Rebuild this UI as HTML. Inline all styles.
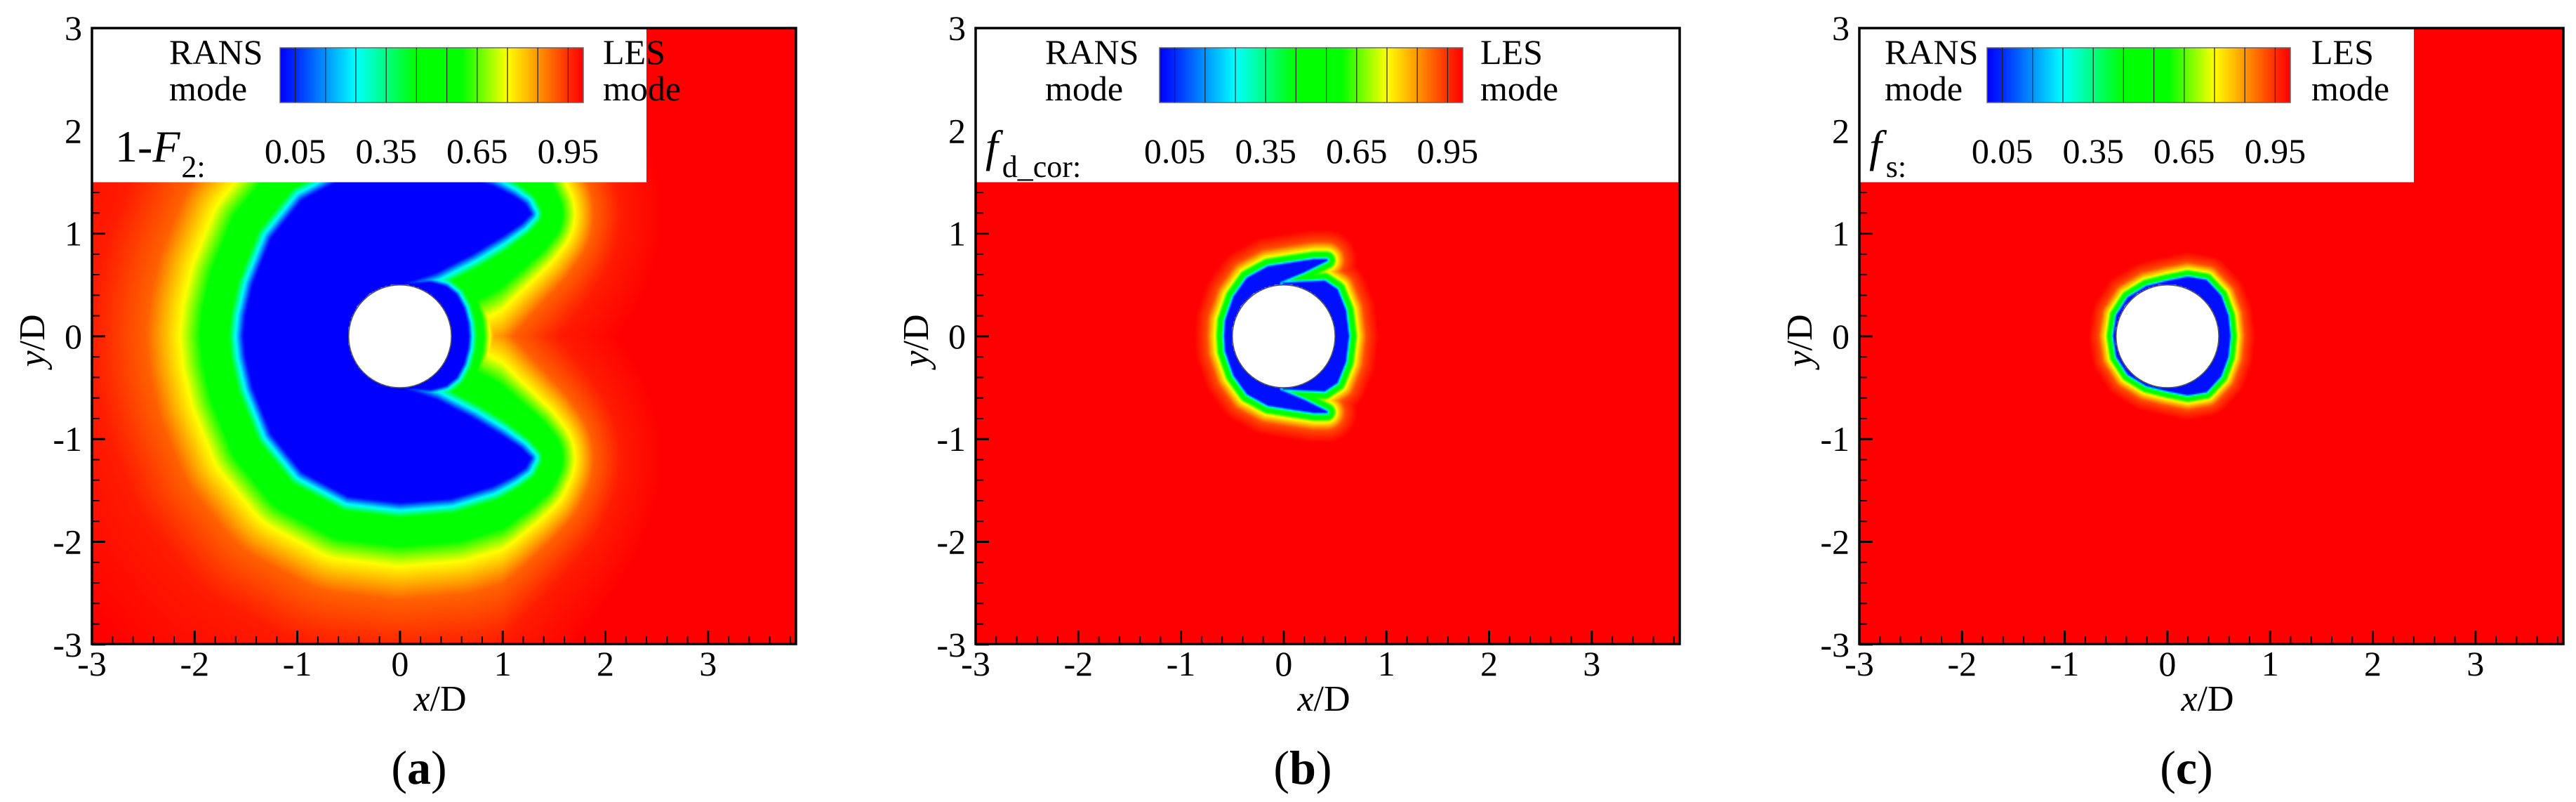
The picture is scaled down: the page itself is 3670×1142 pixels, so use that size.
<!DOCTYPE html>
<html><head><meta charset="utf-8">
<style>
html,body{margin:0;padding:0;background:#fff;}
#wrap{position:relative;width:3670px;height:1142px;overflow:hidden;background:#fff;}
canvas{position:absolute;}
svg{position:absolute;left:0;top:0;}
text{font-family:"Liberation Serif",serif;fill:#000;}
</style></head>
<body>
<div id="wrap">
<canvas id="cv0"></canvas>
<canvas id="cv1"></canvas>
<canvas id="cv2"></canvas>
<svg id="svg" width="3670" height="1142" xmlns="http://www.w3.org/2000/svg"></svg>
</div>
<script>
// ---- data arrays ----
const panelLetters = ['a','b','c'];
const panelPrefixMain = ['1-','f','f'];
const panelPrefixItalic = ['F','',''];
const panelPrefixSub = ['2:','d_cor:','s:'];
const xTickValues = [-3,-2,-1,0,1,2,3];
const yTickValues = [-3,-2,-1,0,1,2,3];
const colorbarLabels = [0.05,0.35,0.65,0.95];
const colorbarLines = [0.05,0.15,0.25,0.35,0.45,0.55,0.65,0.75,0.85,0.95];
const cmapPos = [0,0.05,0.25,0.45,0.6,0.75,0.95,1];
const cmapR = [0,0,0,0,0,255,255,255];
const cmapG = [0,40,255,255,255,255,45,0];
const cmapB = [255,255,255,0,0,0,0,0];
// blue-region outlines (upper half, mirrored about y=0)
const regionA_C = [[0.05,0.52],[0.35,0.62],[0.7,0.8],[1.0,0.98],[1.18,1.1],[1.27,1.19],[1.22,1.28],[1.1,1.36],[0.9,1.46],[0.5,1.58],[0,1.62],[-0.5,1.56],[-0.95,1.32],[-1.25,0.95],[-1.43,0.5],[-1.5,0.2],[-1.52,0]];
const regionA_W = [[0.0,0.5],[0.3,0.52],[0.45,0.48],[0.55,0.4],[0.62,0.27],[0.66,0.12],[0.67,0]];
const regionB_C = [[-0.04,0.53],[0.2,0.63],[0.42,0.74],[0.3,0.74],[0.1,0.71],[-0.15,0.67],[-0.35,0.56],[-0.48,0.38],[-0.56,0.15],[-0.57,0]];
const regionB_W = [[0.0,0.51],[0.4,0.53],[0.52,0.45],[0.6,0.25],[0.63,0]];
const regionC_S = [[-0.52,0],[-0.49,0.2],[-0.38,0.37],[-0.2,0.48],[0,0.53],[0.2,0.57],[0.38,0.54],[0.52,0.39],[0.59,0.2],[0.61,0]];
// distance -> value ramps
const rampA_d = [0,0.08,0.15,0.42,0.62,0.95,1.5,2.5];
const rampA_v = [0.0,0.25,0.45,0.6,0.75,0.9,0.97,1.0];
const rampW_d = [0,0.05,0.1,0.15,0.25,0.4];
const rampW_v = [0,0.3,0.5,0.6,0.85,1];
const rampB_d = [0,0.02,0.04,0.07,0.1,0.18,0.3];
const rampB_v = [0.02,0.25,0.5,0.6,0.75,0.92,1];
const boxRight = [2.4,3.86,2.4];
const boxBottom = 1.5;

// ---- layout ----
const S = 146.3, TOP = 40, PW = 1003, PH = 877;
const LEFTS = [131,1390,2649];
const CB_LEFT = [268,262,182], CB_W = 432, CB_TOP = 68, CB_H = 78;
const RANS_X = [110,99,36], LES_X = [728,719,644];
const NS = 'http://www.w3.org/2000/svg';
const svg = document.getElementById('svg');

function mk(tag, attrs, parent){
  const e = document.createElementNS(NS, tag);
  for (const k in attrs) e.setAttribute(k, attrs[k]);
  (parent||svg).appendChild(e);
  return e;
}
function interp(xs, ys, x){
  if (x <= xs[0]) return ys[0];
  for (let i=1;i<xs.length;i++){
    if (x <= xs[i]){ const t=(x-xs[i-1])/(xs[i]-xs[i-1]); return ys[i-1]+t*(ys[i]-ys[i-1]); }
  }
  return ys[ys.length-1];
}
function fullPoly(upper){
  const p = upper.slice();
  for (let i=upper.length-1;i>=0;i--){ if (upper[i][1]!==0) p.push([upper[i][0],-upper[i][1]]); }
  return p;
}
function sdist(poly, x, y){
  let d = 1e9, inside = false;
  for (let i=0,j=poly.length-1;i<poly.length;j=i++){
    const ax=poly[j][0], ay=poly[j][1], bx=poly[i][0], by=poly[i][1];
    if (((by>y)!==(ay>y)) && (x < (ax-bx)*(y-by)/(ay-by)+bx)) inside = !inside;
    const dx=bx-ax, dy=by-ay; let t=((x-ax)*dx+(y-ay)*dy)/(dx*dx+dy*dy);
    t = Math.max(0,Math.min(1,t));
    const ex=ax+t*dx-x, ey=ay+t*dy-y; const dd=ex*ex+ey*ey; if (dd<d) d=dd;
  }
  d = Math.sqrt(d);
  return inside ? -d : d;
}
function color(v){
  return [interp(cmapPos,cmapR,v), interp(cmapPos,cmapG,v), interp(cmapPos,cmapB,v)];
}
const polys = [
  [fullPoly(regionA_C), fullPoly(regionA_W)],
  [fullPoly(regionB_C), fullPoly(regionB_W)],
  [fullPoly(regionC_S)]
];
function fieldValue(p, x, y){
  if (p===0){
    const d1 = Math.max(0, sdist(polys[0][0],x,y));
    const k = 1 + Math.max(0, x-1.0)*0.6;
    const v1 = interp(rampA_d, rampA_v, d1*k);
    const d2 = Math.max(0, sdist(polys[0][1],x,y));
    const v2 = interp(rampW_d, rampW_v, d2);
    return Math.min(v1, v2);
  } else if (p===1){
    const d1 = Math.max(0, sdist(polys[1][0],x,y));
    const d2 = Math.max(0, sdist(polys[1][1],x,y));
    return Math.min(interp(rampB_d,rampB_v,d1), interp(rampB_d,rampB_v,d2));
  } else {
    const d1 = Math.max(0, sdist(polys[2][0],x,y));
    return interp(rampB_d,rampB_v,d1*1.2);
  }
}
const sx = (p,x) => LEFTS[p] + (x+3)*S;
const sy = (y) => TOP + (3-y)*S;

for (let p=0;p<3;p++){
  const cv = document.getElementById('cv'+p);
  const W = Math.ceil(PW/2), H = Math.ceil(PH/2);
  cv.width = W; cv.height = H;
  cv.style.left = LEFTS[p]+'px'; cv.style.top = TOP+'px';
  cv.style.width = PW+'px'; cv.style.height = PH+'px';
  const ctx = cv.getContext('2d');
  const img = ctx.createImageData(W,H);
  for (let j=0;j<H;j++){
    const y = 3 - (j*2+1)/S;
    for (let i=0;i<W;i++){
      const x = -3 + (i*2+1)/S;
      let c;
      if (x*x+y*y < 0.25) c=[255,255,255];
      else c = color(fieldValue(p,x,y));
      const o=(j*W+i)*4;
      img.data[o]=c[0]; img.data[o+1]=c[1]; img.data[o+2]=c[2]; img.data[o+3]=255;
    }
  }
  ctx.putImageData(img,0,0);
}

// colorbar gradient
const defs = mk('defs',{});
const grad = mk('linearGradient',{id:'cbg',x1:'0',x2:'1',y1:'0',y2:'0'},defs);
for (let i=0;i<cmapPos.length;i++){
  mk('stop',{offset:cmapPos[i],'stop-color':'rgb('+cmapR[i]+','+cmapG[i]+','+cmapB[i]+')'},grad);
}

for (let p=0;p<3;p++){
  const L = LEFTS[p];
  const g = mk('g',{});
  
  
  const cyl = mk('circle',{cx:sx(p,0),cy:sy(0),r:0.5*S,fill:'#fff',stroke:'#555','stroke-width':1.5},g);
  
  
  for (let k=0;k<=34;k++){
    const xv=-3+k*0.2; if (xv>3.87) break;
    const isMaj = Math.abs(xv-Math.round(xv))<1e-6;
    const len = isMaj?19:11;
    const t = mk('line',{x1:sx(p,xv),x2:sx(p,xv),y1:TOP+PH,y2:TOP+PH-len,stroke:'#000','stroke-width':isMaj?3:2},g);
    
    
  }
  for (let k=0;k<=30;k++){
    const yv=-3+k*0.2;
    const isMaj = Math.abs(yv-Math.round(yv))<1e-6;
    const len = isMaj?19:11;
    const t = mk('line',{x1:L,x2:L+len,y1:sy(yv),y2:sy(yv),stroke:'#000','stroke-width':isMaj?3:2},g);
    
    
  }
  const bx = mk('rect',{x:L,y:TOP,width:(boxRight[p]+3)*S,height:(3-boxBottom)*S,fill:'#fff'},g);
  
  
  const cb = mk('rect',{x:L+CB_LEFT[p],y:CB_TOP,width:CB_W,height:CB_H,fill:'url(#cbg)',stroke:'#666','stroke-width':1.5},g);
  
  
  for (const v of colorbarLines){
    const ln = mk('line',{x1:L+CB_LEFT[p]+v*CB_W,x2:L+CB_LEFT[p]+v*CB_W,y1:CB_TOP,y2:CB_TOP+CB_H,stroke:'#222','stroke-width':1.2},g);
    
    
  }
  for (const v of colorbarLabels){
    const t = mk('text',{x:L+CB_LEFT[p]+v*CB_W,y:232,'font-size':50,'text-anchor':'middle'},g);
    t.textContent = v.toFixed(2);
    
    
  }
  const r1 = mk('text',{x:L+RANS_X[p],y:91,'font-size':50},g); r1.textContent='RANS';
   
  const r2 = mk('text',{x:L+RANS_X[p],y:143,'font-size':50},g); r2.textContent='mode';
   
  const l1 = mk('text',{x:L+LES_X[p],y:91,'font-size':50},g); l1.textContent='LES';
   
  const l2 = mk('text',{x:L+LES_X[p],y:143,'font-size':50},g); l2.textContent='mode';
   
  const vt = mk('text',{x:L+(p===0?33:14),y:230,'font-size':64},g);
  
  
  const s1 = mk('tspan',{'font-style':p===0?'normal':'italic'},vt); s1.textContent = panelPrefixMain[p];
  if (panelPrefixItalic[p]){ const s2=mk('tspan',{'font-style':'italic'},vt); s2.textContent=panelPrefixItalic[p]; }
  const s3 = mk('tspan',{'font-size':44,dy:22,dx:p===0?2:6},vt); s3.textContent = panelPrefixSub[p];
  const fr = mk('rect',{x:L,y:TOP,width:PW,height:PH,fill:'none',stroke:'#000','stroke-width':3.5},g);
  
  
  for (const v of xTickValues){
    const t = mk('text',{x:sx(p,v),y:962,'font-size':50,'text-anchor':'middle'},g);
    t.textContent = String(v);
    
    
  }
  for (const v of yTickValues){
    const t = mk('text',{x:L-14,y:sy(v)+17,'font-size':50,'text-anchor':'end'},g);
    t.textContent = String(v);
    
    
  }
  const xt = mk('text',{x:L+496,y:1012,'font-size':52,'text-anchor':'middle'},g);
   
  const xi = mk('tspan',{'font-style':'italic'},xt); xi.textContent='x';
  const xd = mk('tspan',{},xt); xd.textContent='/D';
  const yt = mk('text',{x:0,y:0,'font-size':52,'text-anchor':'middle',transform:'translate('+(L-68)+',485) rotate(-90)'},g);
   
  const yi = mk('tspan',{'font-style':'italic'},yt); yi.textContent='y';
  const yd = mk('tspan',{},yt); yd.textContent='/D';
  const pc = mk('text',{x:L+466,y:1116,'font-size':68,'text-anchor':'middle'},g);
   
  const pa = mk('tspan',{},pc); pa.textContent='(';
  const pb = mk('tspan',{'font-weight':'bold'},pc); pb.textContent=panelLetters[p];
  const pd = mk('tspan',{},pc); pd.textContent=')';
}
</script>
</body></html>
